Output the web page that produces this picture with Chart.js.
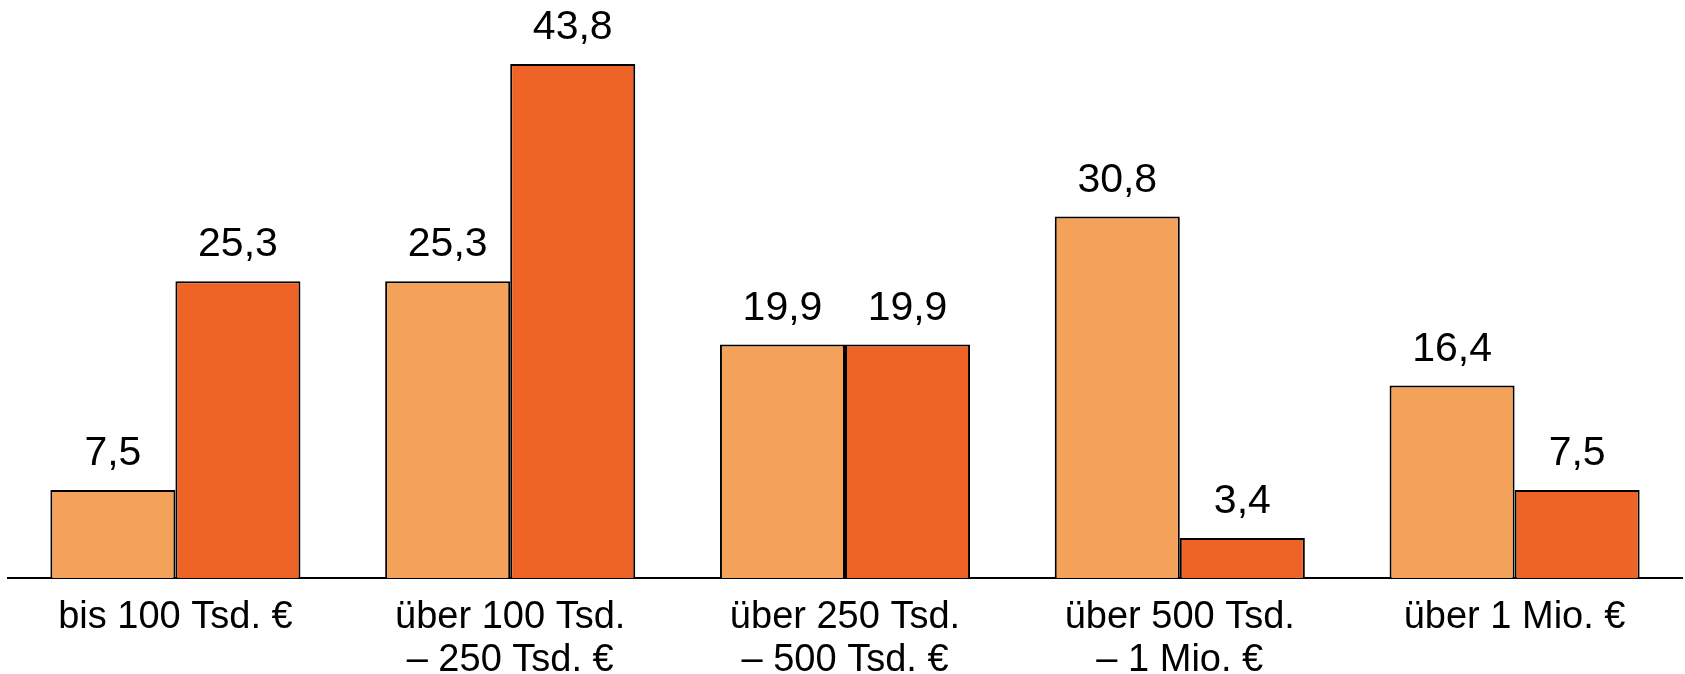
<!DOCTYPE html>
<html>
<head>
<meta charset="utf-8">
<script src="https://cdn.jsdelivr.net/npm/chart.js@4"></script>
<style>
  html, body { margin: 0; padding: 0; background: #fff; }
  #wrap { width: 1685px; height: 674px; }
</style>
</head>
<body>
<div id="wrap"><canvas id="chartBars"></canvas></div>
<script>
// Categories (two-line labels)
const categories = [
  "bis 100 Tsd. €",
  ["über 100 Tsd.", "– 250 Tsd. €"],
  ["über 250 Tsd.", "– 500 Tsd. €"],
  ["über 500 Tsd.", "– 1 Mio. €"],
  "über 1 Mio. €"
];

// Series values
const seriesLight = [7.5, 25.3, 19.9, 30.8, 16.4];
const seriesDark = [25.3, 43.8, 19.9, 3.4, 7.5];

const lightColor = "#F4A25A";
const darkColor = "#EE6427";

// Draw the value above each bar, German decimal comma
const valueLabels = {
  id: "valueLabels",
  afterDatasetsDraw(chart) {
    const ctx = chart.ctx;
    ctx.save();
    ctx.font = "41px 'Liberation Sans', Arial, sans-serif";
    ctx.fillStyle = "#000";
    ctx.textAlign = "center";
    ctx.textBaseline = "alphabetic";
    chart.data.datasets.forEach((ds, i) => {
      chart.getDatasetMeta(i).data.forEach((bar, j) => {
        const txt = ds.data[j].toFixed(1).replace(".", ",");
        ctx.fillText(txt, bar.x, bar.y - 25);
      });
    });
    ctx.restore();
  }
};

const chartBars = new Chart(document.getElementById("chartBars"), {
  type: "bar",
  data: {
    labels: categories,
    datasets: [{
      label: "A",
      data: seriesLight,
      backgroundColor: lightColor,
      borderColor: "#000",
      borderWidth: 2,
      borderSkipped: "bottom"
    },
    {
      label: "B",
      data: seriesDark,
      backgroundColor: darkColor,
      borderColor: "#000",
      borderWidth: 2,
      borderSkipped: "bottom"
    }]
  },
  options: {
    responsive: true,
    maintainAspectRatio: false,
    animation: false,
    layout: {
      padding: { left: 8, right: 3, top: 50, bottom: 0 }
    },
    plugins: {
      legend: { display: false },
      tooltip: { enabled: false }
    },
    datasets: {
      bar: {
        barPercentage: 1,
        categoryPercentage: 0.747
      }
    },
    scales: {
      x: {
        grid: { display: false, drawTicks: false },
        border: { display: true, color: "#000", width: 2 },
        ticks: {
          color: "#000",
          padding: 18,
          maxRotation: 0,
          autoSkip: false,
          font: { family: "'Liberation Sans', Arial, sans-serif", size: 38, lineHeight: 1.13 }
        },
        afterFit(scale) {
          scale.height = 96;
        }
      },
      y: {
        display: false,
        min: 0,
        max: 45
      }
    }
  },
  plugins: [valueLabels]
});
</script>
</body>
</html>
